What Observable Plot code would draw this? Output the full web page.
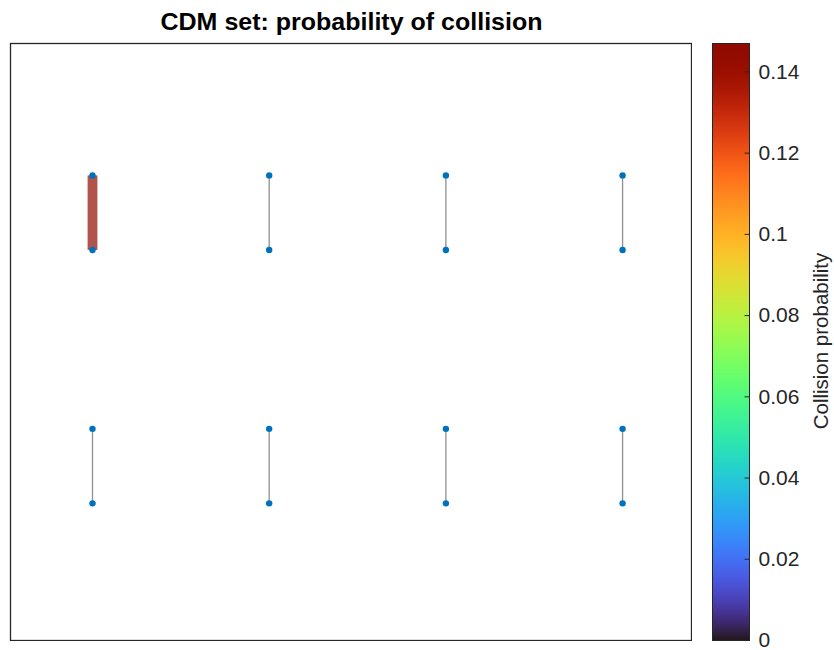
<!DOCTYPE html>
<html>
<head>
<meta charset="utf-8">
<script src="https://cdn.jsdelivr.net/npm/d3@7"></script>
<script src="https://cdn.jsdelivr.net/npm/@observablehq/plot@0.6"></script>
<style>
  html, body { margin: 0; padding: 0; background: #fff; }
  #chart { position: relative; width: 834px; height: 650px; font-family: "Liberation Sans", Arial, sans-serif; }
  #chart > * { position: absolute; }
  #title { left: 10px; width: 683px; top: 8px; line-height: 28px; text-align: center; font-weight: bold; font-size: 25px; color: #000; transform: scaleY(0.92); }
  #cblabel { left: 821px; top: 341px; transform: translate(-50%, -50%) rotate(-90deg); white-space: nowrap; font-size: 20.5px; color: #262626; }
</style>
</head>
<body>
<div id="chart">
  <div id="title">CDM set: probability of collision</div>
  <div id="cblabel">Collision probability</div>
</div>
<script>
// Graph nodes (layout coordinates)
const nodeIds = [1, 2, 3, 4, 5, 6, 7, 8, 9, 10, 11, 12, 13, 14, 15, 16];
const nodeX   = [1, 1, 2, 2, 3, 3, 4, 4, 1, 1, 2, 2, 3, 3, 4, 4];
const nodeY   = [4.4, 3.4, 4.4, 3.4, 4.4, 3.4, 4.4, 3.4, 1, 0, 1, 0, 1, 0, 1, 0];

// Conjunction edges and their collision probability
const edgeSource = [1, 3, 5, 7, 9, 11, 13, 15];
const edgeTarget = [2, 4, 6, 8, 10, 12, 14, 16];
const edgePc     = [0.147, 0, 0, 0, 0, 0, 0, 0];

// Colorbar ticks
const cbTicks = [0, 0.02, 0.04, 0.06, 0.08, 0.1, 0.12, 0.14];

const nodes = nodeIds.map((id, i) => ({id, x: nodeX[i], y: nodeY[i]}));
const byId = new Map(nodes.map(n => [n.id, n]));
const edges = edgeSource.map((s, i) => ({
  x1: byId.get(s).x, y1: byId.get(s).y,
  x2: byId.get(edgeTarget[i]).x, y2: byId.get(edgeTarget[i]).y,
  pc: edgePc[i]
}));

const pcMax = d3.max(edgePc);
const turbo = d3.scaleSequential(d3.interpolateTurbo).domain([0, pcMax]);

const graph = Plot.plot({
  width: 683,
  height: 599,
  margin: 1,
  x: {domain: [0.536, 4.39], axis: null},
  y: {domain: [-1.84, 6.17], axis: null},
  marks: [
    Plot.frame({stroke: "#262626", strokeWidth: 1.3}),
    Plot.link(edges, {
      x1: "x1", y1: "y1", x2: "x2", y2: "y2",
      stroke: d => d.pc > 0 ? turbo(d.pc) : "#8f8f8f",
      strokeOpacity: d => d.pc > 0 ? 0.7 : 1,
      strokeWidth: d => 1.3 + 8.5 * d.pc / pcMax
    }),
    Plot.dot(nodes, {x: "x", y: "y", r: 3.2, fill: "#0072bd", stroke: null})
  ]
});
graph.style.left = "9px";
graph.style.top = "42px";
document.getElementById("chart").appendChild(graph);

// Vertical colorbar
const steps = 300;
const bands = d3.range(steps).map(i => ({
  y1: pcMax * i / steps,
  y2: pcMax * (i + 1) / steps,
  v: pcMax * (i + 0.5) / steps
}));

const cb = Plot.plot({
  width: 123,
  height: 599,
  marginTop: 1, marginBottom: 1, marginLeft: 1, marginRight: 85,
  x: {domain: [0, 1], axis: null},
  y: {domain: [0, pcMax], axis: null},
  color: {type: "linear", scheme: "turbo", domain: [0, pcMax]},
  style: {fontFamily: "Liberation Sans, Arial, sans-serif", overflow: "visible"},
  marks: [
    Plot.rect(bands, {x1: 0, x2: 1, y1: "y1", y2: "y2", fill: "v", shapeRendering: "crispEdges"}),
    Plot.frame({stroke: "#262626", strokeWidth: 1}),
    Plot.ruleY(cbTicks, {y: d => d, x1: 0.88, x2: 1, stroke: "#262626", strokeWidth: 1}),
    Plot.text(cbTicks, {y: d => d, x: 1, text: d => String(d), textAnchor: "start", dx: 9, fontSize: 21, fill: "#262626"})
  ]
});
cb.style.left = "711px";
cb.style.top = "42px";
document.getElementById("chart").appendChild(cb);
</script>
</body>
</html>
